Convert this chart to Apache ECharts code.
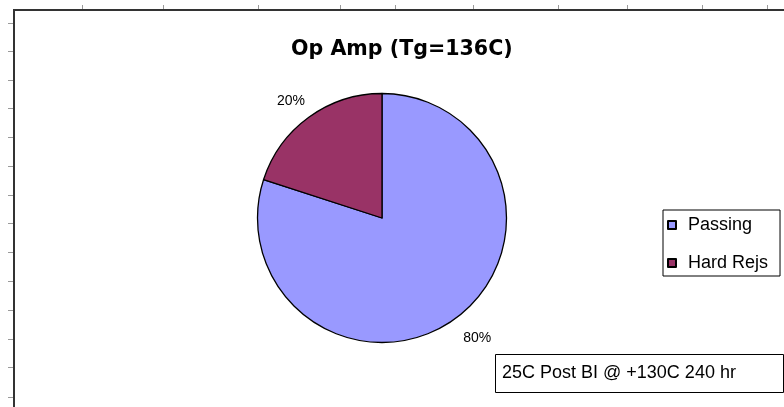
<!DOCTYPE html>
<html>
<head>
<meta charset="utf-8">
<script src="https://cdn.jsdelivr.net/npm/echarts@6/dist/echarts.min.js"></script>
<style>
html,body{margin:0;padding:0;background:#fff;}
#chart{width:784px;height:407px;}
</style>
</head>
<body>
<div id="chart"></div>
<script>
// ---- data ----
const categories = ['Passing', 'Hard Rejs'];
const values = [80, 20];
const colors = ['#9999FF', '#993366'];
const titleText = 'Op Amp (Tg=136C)';
const noteText = '25C Post BI @ +130C 240 hr';

// ---- decorative frame (spreadsheet border ticks) ----
const topTickX = [82, 163, 258, 340, 395, 473, 558, 627, 702, 767];
const leftTickY = [23, 51, 80, 108, 137, 166, 195, 223, 252, 281, 310, 339, 367, 397];

const labelTweaks = [
  { length: 24, dist: -6 },
  { length: 20, dist: -8 }
];

const chart = echarts.init(document.getElementById('chart'), null, { renderer: 'canvas' });

const graphics = [];
topTickX.forEach(x => graphics.push({
  type: 'line', silent: true,
  shape: { x1: x + 0.5, y1: 5, x2: x + 0.5, y2: 10 },
  style: { stroke: '#9a9a9a', lineWidth: 1 }
}));
leftTickY.forEach(y => graphics.push({
  type: 'line', silent: true,
  shape: { x1: 8, y1: y + 0.5, x2: 13, y2: y + 0.5 },
  style: { stroke: '#9a9a9a', lineWidth: 1 }
}));
graphics.push({
  type: 'polyline', silent: true,
  shape: { points: [[14, 407], [14, 10], [784, 10]] },
  style: { stroke: '#333', lineWidth: 2, fill: null }
});
graphics.push({
  type: 'rect', silent: true,
  shape: { x: 495.5, y: 354.5, width: 288, height: 38 },
  style: { stroke: '#000', lineWidth: 1, fill: '#fff' }
});
graphics.push({
  type: 'text', silent: true,
  x: 502, y: 373,
  style: {
    text: noteText, fill: '#000',
    font: '18px "Liberation Sans", Arial, sans-serif',
    verticalAlign: 'middle', align: 'left'
  }
});

const option = {
  animation: false,
  backgroundColor: '#fff',
  title: {
    text: titleText,
    left: 291,
    top: 39,
    padding: 0,
    textStyle: {
      fontFamily: '"DejaVu Sans", sans-serif',
      fontWeight: 'bold',
      fontSize: 20.6,
      color: '#000'
    }
  },
  legend: {
    orient: 'vertical',
    left: 663,
    top: 210,
    padding: [5, 12, 3, 4],
    itemGap: 18,
    itemWidth: 8,
    itemHeight: 8,
    icon: 'rect',
    borderColor: '#000',
    borderWidth: 1,
    borderRadius: 0,
    backgroundColor: '#fff',
    selectedMode: false,
    data: categories,
    textStyle: {
      fontFamily: '"Liberation Sans", Arial, sans-serif',
      fontSize: 18,
      lineHeight: 20,
      color: '#000',
      padding: [0, 0, 0, 7]
    }
  },
  graphic: graphics,
  series: [{
    type: 'pie',
    center: [382, 218],
    radius: 124.5,
    startAngle: 90,
    clockwise: true,
    avoidLabelOverlap: false,
    emphasis: { disabled: true },
    itemStyle: { borderColor: '#000', borderWidth: 1.3 },
    label: {
      show: true,
      position: 'outside',
      formatter: '{d}%',
      fontFamily: '"Liberation Sans", Arial, sans-serif',
      fontSize: 14,
      color: '#000'
    },
    labelLine: { show: false, length2: 0 },
    data: categories.map((name, i) => ({
      name: name,
      value: values[i],
      itemStyle: { color: colors[i] },
      label: { distanceToLabelLine: labelTweaks[i].dist },
      labelLine: { show: false, length: labelTweaks[i].length, length2: 0 }
    }))
  }]
};
chart.setOption(option);
</script>
</body>
</html>
